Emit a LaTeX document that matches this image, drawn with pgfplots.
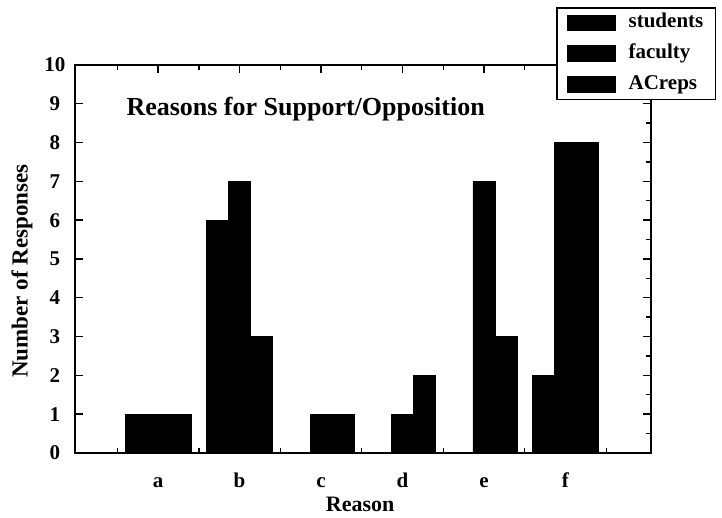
\documentclass[border=0pt]{standalone}
\usepackage{fontspec}
\setmainfont{Liberation Serif}
\usepackage{pgfplots}
\pgfplotsset{compat=1.18}
\begin{document}
\begin{tikzpicture}
\useasboundingbox (-75pt,-65pt) rectangle (647pt,453pt);
\pgfplotsset{base/.style={width=576pt,height=388pt,scale only axis,
  xmin=-0.02,xmax=7.05,ymin=0,ymax=10,
  axis line style={line width=1.8pt},
  tick style={line width=1.4pt, black}, tick align=inside}}
\begin{axis}[base,
  xtick={0.5,1.5,...,6.5}, ytick={0,0.5,...,10}, ytick pos=right,
  major tick length=5pt, xticklabel=\empty, yticklabel=\empty,
  axis line style={draw=none}]
\end{axis}
\begin{axis}[base,
  xtick={1,...,6}, xtick pos=right, ytick={1,...,9}, ytick pos=right,
  major tick length=8pt, xticklabel=\empty, yticklabel=\empty,
  axis line style={draw=none}]
\end{axis}
\begin{axis}[base,
  ybar=0pt, bar width=0.27,
  xtick={1,...,6}, xticklabels={a,b,c,d,e,f}, xtick style={draw=none},
  ytick={0,...,10}, yticklabels={0,1,2,3,4,5,6,7,8,9,10}, ytick pos=left,
  major tick length=8pt,
  xticklabel style={font=\bfseries\fontsize{21}{21}\selectfont, anchor=base, yshift=-27pt},
  yticklabel style={font=\bfseries\fontsize{21}{21}\selectfont, anchor=center, xshift=-20pt},
  xlabel={Reason}, ylabel={Number of Responses},
  xlabel style={font=\bfseries\fontsize{22}{22}\selectfont, at={(axis description cs:0.495,-0.150)}, anchor=base},
  ylabel style={font=\bfseries\fontsize{23}{23}\selectfont, at={(axis description cs:-0.092,0.469)}, anchor=center},
  every axis plot post/.append style={legend image code/.code={\fill[black] (0pt,-7.5pt) rectangle (47pt,7.5pt);}},
  legend style={at={(axis description cs:1.113,1.149)}, anchor=north east, draw=black, line width=1.5pt, fill=white,
    font=\bfseries\fontsize{21}{21}\selectfont, row sep=8.7pt, column sep=11pt, inner xsep=10pt, inner ysep=4pt,
    nodes={inner sep=2pt, text height=14pt, text depth=4pt}},
  legend cell align=left,
]
\addplot[fill=black, draw=black] coordinates {(1,1) (2,6) (3,0) (4,0) (5,0) (6,2)};
\addplot[fill=black, draw=black] coordinates {(1,1) (2,7) (3,1) (4,1) (5,7) (6,8)};
\addplot[fill=black, draw=black] coordinates {(1,1) (2,3) (3,1) (4,2) (5,3) (6,8)};
\legend{students,faculty,ACreps}
\node[anchor=base west, font=\bfseries\fontsize{26}{26}\selectfont] at (axis description cs:0.0833,0.871) {Reasons for Support/Opposition};
\end{axis}
\end{tikzpicture}
\end{document}
